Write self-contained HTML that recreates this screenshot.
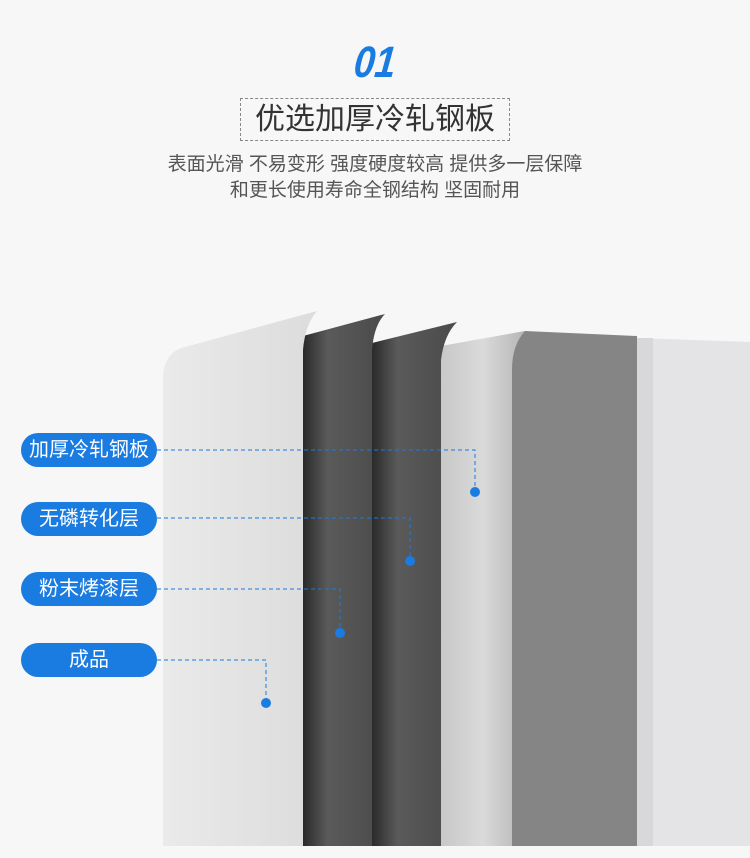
<!DOCTYPE html>
<html><head><meta charset="utf-8"><style>
body{margin:0;width:750px;height:858px;background:#f7f7f7;overflow:hidden;position:relative;font-family:"Liberation Sans","Noto Sans CJK SC",sans-serif}
.a{position:absolute}
.pill{position:absolute;left:21px;width:136px;height:34px;border-radius:17px;background:#1a7be0;color:#fff;font-size:20px;line-height:34px;text-align:center}
</style></head><body>
<div class="a" style="left:350px;top:38px;width:50px;text-align:center;font-size:44px;font-weight:bold;font-style:italic;color:#1a7be0;font-family:'Liberation Sans',sans-serif;transform:skewX(-6deg) scaleX(0.85)">01</div>
<div class="a" style="left:240px;top:98px;width:268px;height:41px;border:1px dashed #888;text-align:center;font-size:30px;line-height:41px;color:#333">优选加厚冷轧钢板</div>
<div class="a" style="left:0;top:152px;width:750px;text-align:center;font-size:19px;line-height:26px;color:#555">表面光滑 不易变形 强度硬度较高 提供多一层保障<br>和更长使用寿命全钢结构 坚固耐用</div>
<svg class="a" style="left:0;top:0" width="750" height="858">
<defs>
<linearGradient id="d1" x1="0" x2="1"><stop offset="0" stop-color="#2a2a2a"/><stop offset="0.3" stop-color="#5a5a5a"/><stop offset="1" stop-color="#4a4a4a"/></linearGradient>
<linearGradient id="sv" x1="0" x2="1"><stop offset="0" stop-color="#c8c8c8"/><stop offset="0.5" stop-color="#dadada"/><stop offset="1" stop-color="#b5b5b5"/></linearGradient>
<linearGradient id="wh" x1="0" x2="1"><stop offset="0" stop-color="#eaeaea"/><stop offset="1" stop-color="#dcdcdc"/></linearGradient>
</defs>
<path d="M637 338 L750 342 L750 846 L637 846Z" fill="#e4e4e6"/>
<rect x="637" y="338" width="16" height="508" fill="#d8d8da"/>
<path d="M512 334 L525 331 L637 336 L637 846 L512 846Z" fill="#858585"/>
<path d="M441 346 L525 331 Q512 345 512 370 L512 846 L441 846Z" fill="url(#sv)"/>
<path d="M372 343 L457 322 Q444 335 441 360 L441 846 L372 846Z" fill="url(#d1)"/>
<path d="M303 336 L385 314 Q374 325 372 350 L372 846 L303 846Z" fill="url(#d1)"/>
<path d="M163 380 Q163 352 185 347 L317 311 Q305 325 303 350 L303 846 L163 846Z" fill="url(#wh)"/>
<rect x="0" y="846" width="750" height="12" fill="#f7f7f7"/>
<g stroke="#1a7be0" stroke-width="1" stroke-dasharray="4,3" fill="none">
<path d="M157 450 H475 V492"/><path d="M157 518 H410 V561"/><path d="M157 589 H340 V633"/><path d="M157 660 H266 V703"/>
</g>
<g fill="#1a7be0"><circle cx="475" cy="492" r="5"/><circle cx="410" cy="561" r="5"/><circle cx="340" cy="633" r="5"/><circle cx="266" cy="703" r="5"/></g>
</svg>
<div class="pill" style="top:433px">加厚冷轧钢板</div>
<div class="pill" style="top:502px">无磷转化层</div>
<div class="pill" style="top:572px">粉末烤漆层</div>
<div class="pill" style="top:643px">成品</div>
</body></html>
